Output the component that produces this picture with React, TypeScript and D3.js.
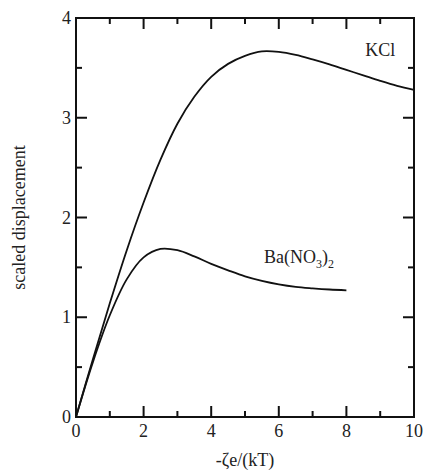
import React from "react";
import * as d3 from "d3";

// values
const kclX = [0, 0.5, 1, 1.5, 2, 2.5, 3, 3.5, 4, 4.5, 5, 5.5, 6, 6.5, 7, 7.5, 8, 8.5, 9, 9.5, 10];
const kclY = [0, 0.58, 1.14, 1.67, 2.15, 2.58, 2.94, 3.21, 3.41, 3.54, 3.62, 3.665, 3.66, 3.63, 3.585, 3.535, 3.48, 3.425, 3.37, 3.32, 3.28];
const baX = [0, 0.5, 1, 1.5, 2, 2.5, 3, 3.5, 4, 4.5, 5, 5.5, 6, 6.5, 7, 7.5, 8];
const baY = [0, 0.55, 1.02, 1.38, 1.6, 1.685, 1.672, 1.61, 1.535, 1.47, 1.41, 1.365, 1.33, 1.305, 1.29, 1.278, 1.27];
const xMajor = [0, 2, 4, 6, 8, 10];
const xMinor = [1, 3, 5, 7, 9];
const yMajor = [0, 1, 2, 3, 4];
const yMinor = [0.5, 1.5, 2.5, 3.5];

const width = 425;
const height = 471;
const margin = { top: 18, right: 11, bottom: 54, left: 76 };
const font = "'Liberation Serif', 'Times New Roman', serif";
const ink = "#111";

const App = () => {
  const x = d3.scaleLinear().domain([0, 10]).range([margin.left, width - margin.right]);
  const y = d3.scaleLinear().domain([0, 4]).range([height - margin.bottom, margin.top]);

  const line = d3
    .line<[number, number]>()
    .x((d) => x(d[0]))
    .y((d) => y(d[1]))
    .curve(d3.curveCatmullRom);

  const kcl = kclX.map((v, i) => [v, kclY[i]] as [number, number]);
  const ba = baX.map((v, i) => [v, baY[i]] as [number, number]);

  const left = x(0);
  const right = x(10);
  const bottom = y(0);
  const top = y(4);

  // inward ticks on all four sides
  const xTicks = xMajor.map((t) => ({ t, len: 11 })).concat(xMinor.map((t) => ({ t, len: 6 })));
  const yTicks = yMajor.map((t) => ({ t, len: 11 })).concat(yMinor.map((t) => ({ t, len: 6 })));

  const txt = { fontFamily: font, fontSize: 18, fill: "#222" };

  return (
    <div style={{ position: "absolute", left: 0, top: 0 }}>
      <svg width={width} height={height} style={{ display: "block", background: "#fff" }}>
        <rect x={left} y={top} width={right - left} height={bottom - top} fill="none" stroke={ink} strokeWidth={2} />
        <path d={line(kcl) || ""} fill="none" stroke={ink} strokeWidth={1.8} />
        <path d={line(ba) || ""} fill="none" stroke={ink} strokeWidth={1.8} />
        {xTicks.map((d) => (
          <g key={"x" + d.t}>
            <line x1={x(d.t)} x2={x(d.t)} y1={bottom} y2={bottom - d.len} stroke={ink} strokeWidth={2} />
            <line x1={x(d.t)} x2={x(d.t)} y1={top} y2={top + d.len} stroke={ink} strokeWidth={2} />
          </g>
        ))}
        {yTicks.map((d) => (
          <g key={"y" + d.t}>
            <line x1={left} x2={left + d.len} y1={y(d.t)} y2={y(d.t)} stroke={ink} strokeWidth={2} />
            <line x1={right} x2={right - d.len} y1={y(d.t)} y2={y(d.t)} stroke={ink} strokeWidth={2} />
          </g>
        ))}
        {xMajor.map((t) => (
          <text key={"xl" + t} x={x(t)} y={bottom + 20} textAnchor="middle" style={txt}>
            {t}
          </text>
        ))}
        {yMajor.map((t) => (
          <text key={"yl" + t} x={left - 5} y={y(t) + 6} textAnchor="end" style={txt}>
            {t}
          </text>
        ))}
        <text x={(left + right) / 2} y={height - 5} textAnchor="middle" style={txt}>
          -ζe/(kT)
        </text>
        <text transform={`translate(25, ${(bottom + top) / 2}) rotate(-90)`} textAnchor="middle" style={txt}>
          scaled displacement
        </text>
        <text x={x(9.0)} y={y(3.62)} textAnchor="middle" style={txt}>
          KCl
        </text>
        <text x={x(6.6)} y={y(1.54)} textAnchor="middle" style={txt}>
          Ba(NO<tspan fontSize={12} dy={5}>3</tspan>
          <tspan dy={-5}>)</tspan>
          <tspan fontSize={12} dy={5}>2</tspan>
        </text>
      </svg>
    </div>
  );
};

export default App;
